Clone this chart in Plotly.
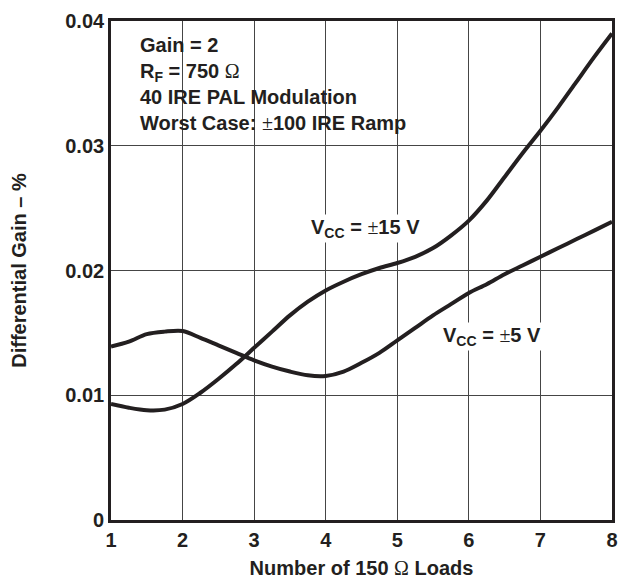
import plotly.graph_objects as go

# Number of 150-ohm loads
loads = [1, 1.25, 1.5, 1.75, 2, 2.25, 2.5, 2.75, 3, 3.25, 3.5, 3.75, 4,
         4.25, 4.5, 4.75, 5, 5.25, 5.5, 5.75, 6, 6.25, 6.5, 6.75, 7,
         7.25, 7.5, 7.75, 8]

# Differential gain (%) for VCC = ±5 V
gain_5v = [0.0139, 0.0143, 0.0149, 0.0151, 0.01515, 0.0146, 0.0140, 0.0134, 0.0128,
           0.0123, 0.0119, 0.0116, 0.01155, 0.0119, 0.0126, 0.0134, 0.0144,
           0.0154, 0.0164, 0.0173, 0.0182, 0.0189, 0.0197, 0.0204, 0.0211,
           0.0218, 0.0225, 0.0232, 0.0239]

# Differential gain (%) for VCC = ±15 V
gain_15v = [0.0093, 0.0090, 0.0088, 0.00885, 0.0093, 0.0102, 0.0113, 0.0125, 0.0138,
            0.0151, 0.0164, 0.0175, 0.0184, 0.0191, 0.0197, 0.0202, 0.0206,
            0.0211, 0.0218, 0.0228, 0.0240, 0.0256, 0.0275, 0.0294, 0.0312,
            0.0331, 0.0351, 0.0371, 0.0390]

x_ticks = [1, 2, 3, 4, 5, 6, 7, 8]
y_ticks = [0, 0.01, 0.02, 0.03, 0.04]
y_tick_text = ["0", "0.01", "0.02", "0.03", "0.04"]

INK = "#231f20"
GRID = "#454545"
FONT = "Liberation Sans, Arial, sans-serif"
SYM = '<span style="font-family:Liberation Serif, serif;font-weight:normal">'
FS = 20

fig = go.Figure()
for vals in (gain_5v, gain_15v):
    fig.add_trace(go.Scatter(
        x=loads, y=vals, mode="lines",
        line=dict(color=INK, width=4, shape="spline", smoothing=0.9),
        showlegend=False, hoverinfo="skip"))

fig.update_layout(
    width=628, height=587,
    margin=dict(l=111, r=10, t=15, b=65),
    paper_bgcolor="white", plot_bgcolor="white",
    font=dict(family=FONT, size=FS, color=INK),
    showlegend=False,
    xaxis=dict(
        range=[1, 8], tickvals=x_ticks, showgrid=True, gridcolor=GRID, gridwidth=1.3,
        zeroline=False, showline=True, linecolor=INK, linewidth=2.6, mirror=True,
        ticks="", layer="above traces",
        tickfont=dict(family=FONT, size=FS, color=INK, weight="bold"),
        title=dict(text="<b>Number of 150 " + SYM + "Ω</span> Loads</b>", standoff=12,
                   font=dict(family=FONT, size=FS, color=INK)),
    ),
    yaxis=dict(
        range=[0, 0.04], tickvals=y_ticks, ticktext=y_tick_text, showgrid=True,
        gridcolor=GRID, gridwidth=1.3, zeroline=False, showline=True, linecolor=INK,
        linewidth=2.6, mirror=True, ticks="", layer="above traces",
        tickfont=dict(family=FONT, size=FS, color=INK, weight="bold"),
        title=dict(text="<b>Differential Gain – %</b>", standoff=34,
                   font=dict(family=FONT, size=FS, color=INK)),
    ),
)

# white mask hiding the grid behind the condition text block (grid stubs left at top as ticks)
fig.add_shape(type="rect", xref="x", yref="y", x0=1, x1=5.5, y0=0.0302, y1=0.0392,
              fillcolor="white", line=dict(width=0), layer="below")

fig.add_annotation(
    xref="paper", yref="paper", x=0.053, y=0.978, xanchor="left", yanchor="top",
    align="left", showarrow=False,
    text=("<b>Gain = 2<br>R<sub>F</sub> = 750 " + SYM + "Ω</span><br>"
          "40 IRE PAL Modulation<br>Worst Case: " + SYM + "±</span>100 IRE Ramp</b>"),
    font=dict(family=FONT, size=FS, color=INK))

fig.add_annotation(
    x=4.55, y=0.0234, xref="x", yref="y", showarrow=False, bgcolor="white",
    text="<b>V<sub>CC</sub> = " + SYM + "±</span>15 V</b>",
    font=dict(family=FONT, size=FS, color=INK))

fig.add_annotation(
    x=6.32, y=0.0147, xref="x", yref="y", showarrow=False, bgcolor="white",
    text="<b>V<sub>CC</sub> = " + SYM + "±</span>5 V</b>",
    font=dict(family=FONT, size=FS, color=INK))

fig.write_html("out.html", config={"displayModeBar": False},
               post_script="document.body.style.margin='0';document.body.style.padding='0';")
